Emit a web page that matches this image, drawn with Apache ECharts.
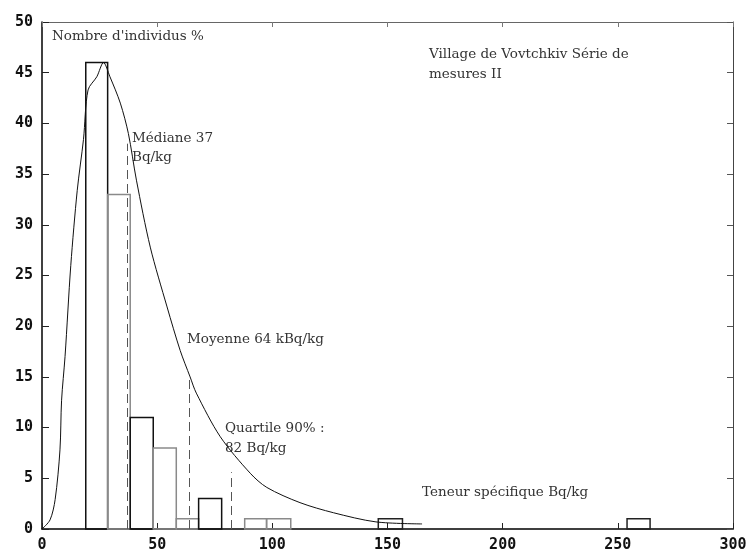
<!DOCTYPE html>
<html>
<head>
<meta charset="utf-8">
<script src="https://cdn.jsdelivr.net/npm/echarts@6/dist/echarts.min.js"></script>
<style>
  html, body { margin: 0; padding: 0; background: #fff; }
  #chart { width: 750px; height: 549px; }
</style>
</head>
<body>
<div id="chart"></div>
<script>
// histogram bins (Bq/kg) and share of individuals (%)
var binStart = [19, 28.5, 38.3, 48.3, 58.3, 68, 88, 97.5, 146, 254];
var binEnd = [28.5, 38.3, 48.3, 58.3, 68, 78, 97.5, 108, 156.5, 264];
var binPct = [46, 33, 11, 8, 1, 3, 1, 1, 1, 1];

// fitted distribution curve
var curveX = [0, 3.5, 5.7, 7.8, 8.5, 10, 12.5, 15.3, 18, 20, 23.8, 26.7, 29.5, 34, 37.5, 41, 47, 54.3, 60, 64.3, 67, 77.4, 90.4, 97.6, 112, 126.6, 145, 165];
var curveY = [0, 0.9, 2.9, 7.8, 12.7, 17, 26, 33.4, 38.4, 43.3, 44.6, 46, 44.6, 42, 39, 34.4, 27.8, 21.9, 17.6, 15, 13.4, 9.1, 5.5, 4.1, 2.6, 1.6, 0.7, 0.5];

// median, mean, 90% quantile markers
var markX = [37, 64, 82];
var markTop = [38, 15, 5.6];

var xTicks = [0, 50, 100, 150, 200, 250, 300];
var yTicks = [0, 5, 10, 15, 20, 25, 30, 35, 40, 45, 50];

// bar outline colours (scan shows alternating dark / grey edges)
var edgeColors = ["#111", "#8a8a8a", "#111", "#8a8a8a", "#8a8a8a", "#111", "#8a8a8a", "#8a8a8a", "#222", "#222"];

var bins = [];
for (var i = 0; i < binStart.length; i++) {
  bins.push([binStart[i], binEnd[i], binPct[i], i]);
}
var curve = [];
for (var i = 0; i < curveX.length; i++) {
  curve.push([curveX[i], curveY[i]]);
}
var marks = [];
for (var i = 0; i < markX.length; i++) {
  marks.push([{ coord: [markX[i], 0] }, { coord: [markX[i], markTop[i]] }]);
}

var tickFont = {
  fontFamily: "DejaVu Sans Mono",
  fontWeight: "bold",
  fontSize: 15,
  color: "#111",
};
var textStyle = {
  fontFamily: "DejaVu Serif",
  fontSize: 13.5,
  fill: "#333",
};

var myChart = echarts.init(document.getElementById("chart"));
myChart.setOption({
  animation: false,
  backgroundColor: "#fff",
  grid: {
    left: 42,
    right: 17,
    top: 22,
    bottom: 20,
    containLabel: false,
    outerBoundsMode: "none",
  },
  xAxis: [
    {
      type: "value",
      min: xTicks[0],
      max: xTicks[xTicks.length - 1],
      interval: 50,
      axisLine: { lineStyle: { color: "#000", width: 1.5 } },
      axisTick: { inside: true, length: 6, lineStyle: { color: "#222" } },
      axisLabel: Object.assign({ margin: 9 }, tickFont),
      splitLine: { show: false },
    },
    {
      type: "value",
      position: "top",
      min: xTicks[0],
      max: xTicks[xTicks.length - 1],
      interval: 50,
      axisLine: { show: true, onZero: false, lineStyle: { color: "#666", width: 1 } },
      axisTick: { inside: true, length: 5, lineStyle: { color: "#777" } },
      axisLabel: { show: false },
      splitLine: { show: false },
    },
  ],
  yAxis: [
    {
      type: "value",
      min: yTicks[0],
      max: yTicks[yTicks.length - 1],
      interval: 5,
      axisLine: { show: true, lineStyle: { color: "#000", width: 1.5 } },
      axisTick: { show: true, inside: true, length: 7, lineStyle: { color: "#222" } },
      axisLabel: Object.assign({ margin: 9 }, tickFont),
      splitLine: { show: false },
    },
    {
      type: "value",
      position: "right",
      min: yTicks[0],
      max: yTicks[yTicks.length - 1],
      interval: 5,
      axisLine: { show: true, onZero: false, lineStyle: { color: "#444", width: 1 } },
      axisTick: { show: true, inside: true, length: 6, lineStyle: { color: "#555" } },
      axisLabel: { show: false },
      splitLine: { show: false },
    },
  ],
  series: [
    {
      type: "custom",
      data: bins,
      encode: { x: [0, 1], y: 2 },
      renderItem: function (params, api) {
        var p0 = api.coord([api.value(0), api.value(2)]);
        var p1 = api.coord([api.value(1), 0]);
        return {
          type: "rect",
          shape: { x: p0[0], y: p0[1], width: p1[0] - p0[0], height: p1[1] - p0[1] },
          style: {
            fill: "none",
            stroke: edgeColors[api.value(3)],
            lineWidth: 1.5,
          },
        };
      },
      z: 2,
    },
    {
      type: "line",
      data: curve,
      smooth: 0.3,
      showSymbol: false,
      lineStyle: { color: "#111", width: 1 },
      z: 3,
      markLine: {
        silent: true,
        symbol: "none",
        label: { show: false },
        lineStyle: { color: "#555", type: [9, 5], width: 1 },
        data: marks,
      },
    },
  ],
  graphic: [
    { type: "text", left: 52, top: 29, style: Object.assign({ text: "Nombre d'individus %" }, textStyle) },
    { type: "text", left: 429, top: 44, style: Object.assign({ text: "Village de Vovtchkiv Série de\nmesures II", lineHeight: 20 }, textStyle) },
    { type: "text", left: 132, top: 129, style: Object.assign({ text: "Médiane 37\nBq/kg", lineHeight: 19 }, textStyle) },
    { type: "text", left: 187, top: 332, style: Object.assign({ text: "Moyenne 64 kBq/kg" }, textStyle) },
    { type: "text", left: 225, top: 418, style: Object.assign({ text: "Quartile 90% :\n82 Bq/kg", lineHeight: 20 }, textStyle) },
    { type: "text", left: 422, top: 485, style: Object.assign({ text: "Teneur spécifique Bq/kg" }, textStyle) },
  ],
});
</script>
</body>
</html>
